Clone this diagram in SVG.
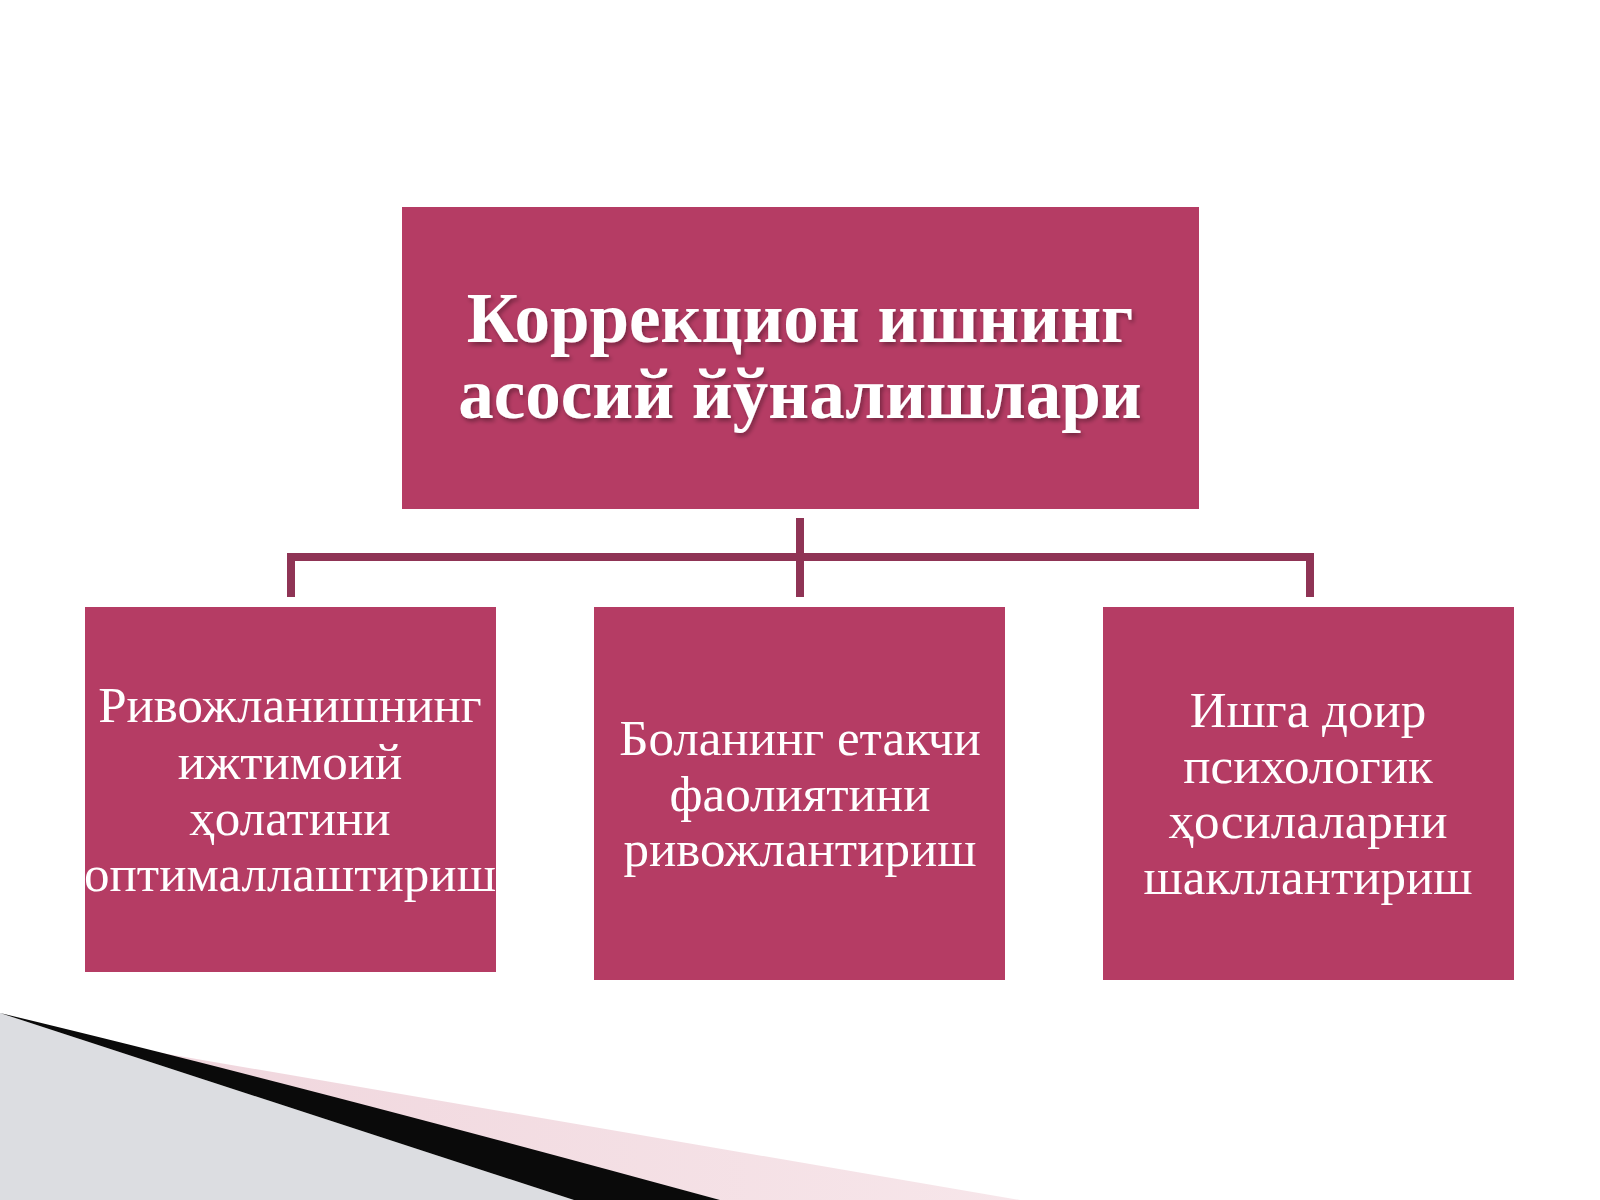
<svg xmlns="http://www.w3.org/2000/svg" width="1600" height="1200" viewBox="0 0 1600 1200">
<style>
.box{fill:#b53c64}
.title{font-family:"Liberation Serif","DejaVu Serif",serif;font-weight:bold;font-size:71px;fill:#ffffff;text-anchor:middle}
.lbl{font-family:"Liberation Serif","DejaVu Serif",serif;font-size:51px;fill:#ffffff;text-anchor:middle}
.conn{stroke:#8f3455;stroke-width:8;fill:none;stroke-linecap:butt;stroke-linejoin:miter}
</style>
<defs>
<filter id="sh" x="-10%" y="-10%" width="120%" height="130%">
<feDropShadow dx="2" dy="3" stdDeviation="2" flood-color="#000000" flood-opacity="0.35"/>
</filter>
<linearGradient id="pinkg" x1="0" y1="0" x2="1" y2="0">
<stop offset="0" stop-color="#f0d6dd"/>
<stop offset="1" stop-color="#f7e6ea"/>
</linearGradient>
</defs>
<rect width="1600" height="1200" fill="#ffffff"/>
<g id="decor">
<polygon points="150,1051 1020,1200 720,1200" fill="url(#pinkg)"/>
<polygon points="0,1013 574,1200 0,1200" fill="#dcdde1"/>
<path d="M0,1013 Q300,1085 720,1200 L574,1200 Z" fill="#0a0a0a"/>
</g>
<g id="connectors">
<path class="conn" d="M800,518 V597"/>
<path class="conn" d="M291,597 V557 H1310 V597"/>
</g>
<g id="root">
<rect class="box" x="402" y="207" width="797" height="302"/>
<g filter="url(#sh)">
<text class="title" x="800" y="342">Коррекцион ишнинг</text>
<text class="title" x="800" y="418">асосий йўналишлари</text>
</g>
</g>
<g id="n1">
<rect class="box" x="85" y="607" width="411" height="365"/>
<text class="lbl" x="290" y="722">Ривожланишнинг</text>
<text class="lbl" x="290" y="779">ижтимоий</text>
<text class="lbl" x="290" y="835">ҳолатини</text>
<text class="lbl" x="290" y="891">оптималлаштириш</text>
</g>
<g id="n2">
<rect class="box" x="594" y="607" width="411" height="373"/>
<text class="lbl" x="800" y="755">Боланинг етакчи</text>
<text class="lbl" x="800" y="811">фаолиятини</text>
<text class="lbl" x="800" y="866">ривожлантириш</text>
</g>
<g id="n3">
<rect class="box" x="1103" y="607" width="411" height="373"/>
<text class="lbl" x="1308" y="727">Ишга доир</text>
<text class="lbl" x="1308" y="783">психологик</text>
<text class="lbl" x="1308" y="838">ҳосилаларни</text>
<text class="lbl" x="1308" y="894">шакллантириш</text>
</g>
</svg>
